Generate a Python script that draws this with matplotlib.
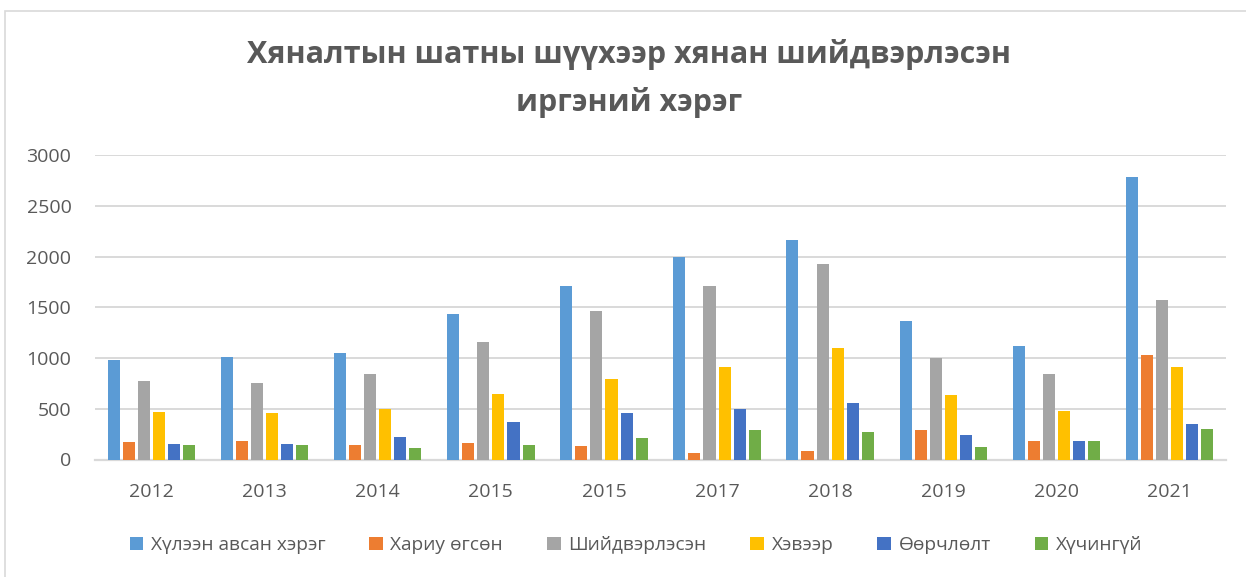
import matplotlib
matplotlib.use('Agg')
import matplotlib.pyplot as plt
import numpy as np
from matplotlib.patches import Rectangle

plt.rcParams['font.family'] = ['Open Sans', 'DejaVu Sans']

# Ангилал (он)
years = ['2012', '2013', '2014', '2015', '2015', '2017', '2018', '2019', '2020', '2021']

# Цувааны утгууд
hulee_avsan = [977, 1010, 1049, 1434, 1711, 1993, 2164, 1368, 1118, 2780]
hariu_ogson = [174, 181, 138, 164, 132, 66, 86, 289, 181, 1033]
shiidverlesen = [776, 757, 839, 1155, 1467, 1707, 1931, 1003, 845, 1576]
hevveer = [470, 461, 500, 641, 793, 914, 1095, 632, 477, 914]
oorchlolt = [155, 148, 220, 368, 457, 497, 559, 240, 184, 352]
huchingui = [145, 138, 112, 138, 214, 289, 270, 125, 178, 299]

series = [hulee_avsan, hariu_ogson, shiidverlesen, hevveer, oorchlolt, huchingui]
names = ['Хүлээн авсан хэрэг', 'Хариу өгсөн', 'Шийдвэрлэсэн', 'Хэвээр', 'Өөрчлөлт', 'Хүчингүй']
colors = ['#5B9BD5', '#ED7D31', '#A5A5A5', '#FFC000', '#4472C4', '#70AD47']

fig = plt.figure(figsize=(12.46, 5.77), dpi=100)
ax = fig.add_axes([95/1246, 1-459.5/577, (1226-95)/1246, (459.5-155)/577])

x = np.arange(len(years))
slot = 0.8 / len(series)
for i, (vals, nm, c) in enumerate(zip(series, names, colors)):
    ax.bar(x - 0.4 + slot*(i+0.5), vals, width=slot*0.8, color=c, label=nm, zorder=3)

ax.set_xlim(-0.5, len(years)-0.5)
ax.set_ylim(0, 3000)
ax.set_yticks(range(0, 3001, 500))
ax.set_xticks(x)
ax.set_xticklabels(years)
ax.grid(axis='y', color='#D9D9D9', linewidth=1.4, zorder=0)
for s in ['top', 'right', 'left']:
    ax.spines[s].set_visible(False)
ax.spines['bottom'].set_color('#D9D9D9')
ax.spines['bottom'].set_linewidth(1.6)
ax.tick_params(axis='both', length=0, labelsize=14, labelcolor='#595959')
ax.tick_params(axis='x', pad=17)
ax.tick_params(axis='y', pad=17)

fig.text(629/1246, 1-55/577, 'Хяналтын шатны шүүхээр хянан шийдвэрлэсэн', ha='center', va='center',
         fontsize=22, fontweight='bold', color='#595959')
fig.text(629/1246, 1-103/577, 'иргэний хэрэг', ha='center', va='center',
         fontsize=22, fontweight='bold', color='#595959')

fig.legend(loc='center', bbox_to_anchor=(636/1246, 1-545/577), ncol=6, frameon=False,
           fontsize=13.8, labelcolor='#595959', handlelength=0.7, handleheight=0.7,
           handletextpad=0.4, columnspacing=2.3)

fig.patches.append(Rectangle((5/1246, -0.05), 1.2, 1-11/577+0.05, transform=fig.transFigure,
                             fill=False, edgecolor='#D9D9D9', linewidth=1.2))

fig.savefig('out.png', dpi=100)
